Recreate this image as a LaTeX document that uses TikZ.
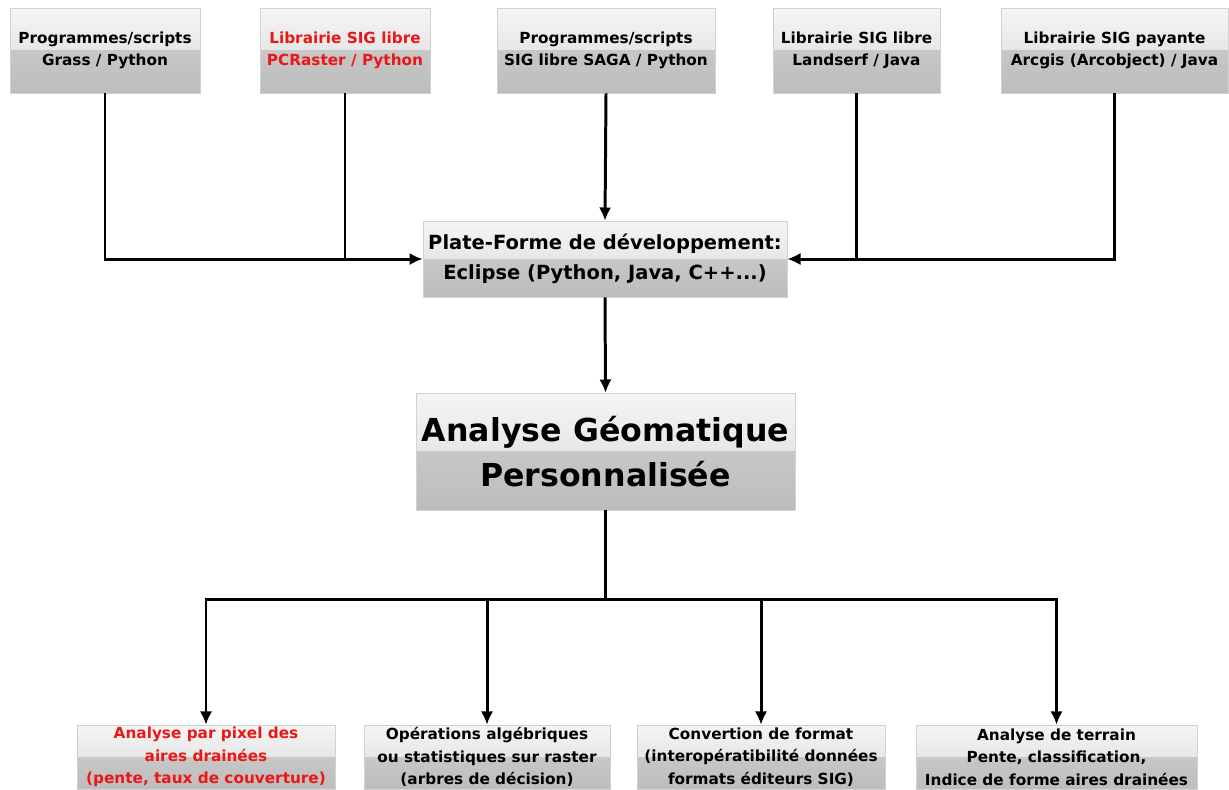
\documentclass[tikz,border=0pt]{standalone}
\usepackage{fontspec}
\setmainfont{DejaVu Sans}
\usepackage{xcolor}
\usetikzlibrary{arrows.meta}

\definecolor{sigred}{RGB}{235,22,22}

\begin{document}
\begin{tikzpicture}[
  x=0.02cm, y=-0.02cm,
  font=\bfseries,
  box/.style={draw=gray!35, line width=0.4pt, inner sep=0pt, align=center,
    path picture={
      \fill[top color=gray!8, bottom color=gray!30] (path picture bounding box.north west) rectangle (path picture bounding box.east);
      \fill[top color=gray!44, bottom color=gray!52] (path picture bounding box.west) rectangle (path picture bounding box.south east);
    }},
  src/.style={box, minimum height=1.7cm, font=\bfseries\fontsize{8.7}{12.6}\selectfont},
  res/.style={box, minimum height=1.28cm, font=\bfseries\fontsize{8.7}{12.8}\selectfont},
  arr/.style={-{Latex[length=7.5pt,width=7pt]}, line width=1.7pt},
  bar/.style={line width=1.7pt}
]
\useasboundingbox (0,0) rectangle (1229,789);

% Sources
\node[src, minimum width=3.8cm] (grass) at (105, 50.5) {Programmes/scripts\\Grass / Python};
\node[src, minimum width=3.4cm, text=sigred] (pcr) at (345, 50.5) {Librairie SIG libre\\PCRaster / Python};
\node[src, minimum width=4.36cm] (saga) at (606, 50.5) {Programmes/scripts\\SIG libre SAGA / Python};
\node[src, minimum width=3.34cm] (land) at (856.5, 50.5) {Librairie SIG libre\\Landserf / Java};
\node[src, minimum width=4.54cm] (arcgis) at (1114.5, 50.5) {Librairie SIG payante\\Arcgis (Arcobject) / Java};

% Platform
\node[box, minimum width=7.28cm, minimum height=1.52cm, font=\bfseries\fontsize{11.1}{17}\selectfont] (plat) at (605, 259) {Plate-Forme de développement:\\Eclipse (Python, Java, C++...)};

% Analysis
\node[box, minimum width=7.58cm, minimum height=2.34cm, font=\bfseries\fontsize{18}{25.6}\selectfont] (ana) at (605.5, 451.5) {Analyse Géomatique\\Personnalisée};

% Results
\node[res, minimum width=5.16cm, text=sigred] (pixel) at (206, 757) {Analyse par pixel des\\aires drainées\\(pente, taux de couverture)};
\node[res, minimum width=4.92cm] (algeb) at (487, 757) {Opérations algébriques\\ou statistiques sur raster\\(arbres de décision)};
\node[res, minimum width=4.96cm] (conv) at (761, 757) {Convertion de format\\(interopératibilité données\\formats éditeurs SIG)};
\node[res, minimum width=5.62cm] (terrain) at (1056.5, 757) {Analyse de terrain\\Pente, classification,\\Indice de forme aires drainées};

% Arrows
\draw[arr] (grass.south) |- (plat.west);
\draw[bar] (pcr.south) -- (pcr.south |- plat.west);
\draw[arr] (saga.south) -- (plat.north);
\draw[bar] (land.south) -- (land.south |- plat.east);
\draw[arr] (arcgis.south) |- (plat.east);
\draw[arr] (plat.south) -- (ana.north);

\coordinate (bus) at (605.5, 599);
\draw[bar] (ana.south) -- (bus);
\draw[arr] (bus) -| (pixel.north);
\draw[arr] (bus) -| (algeb.north);
\draw[arr] (bus) -| (conv.north);
\draw[arr] (bus) -| (terrain.north);
\end{tikzpicture}
\end{document}
